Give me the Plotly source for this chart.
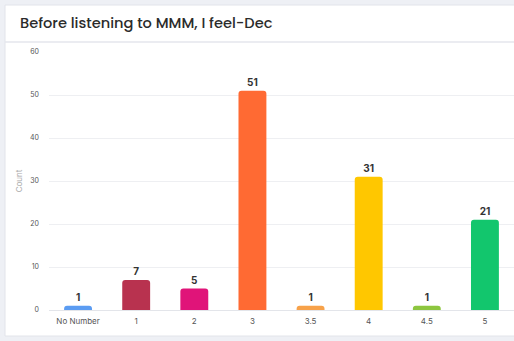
import plotly.graph_objects as go

categories = ["No Number", "1", "2", "3", "3.5", "4", "4.5", "5"]
counts = [1, 7, 5, 51, 1, 31, 1, 21]
colors = ["#5b9cf2", "#b8324f", "#e01479", "#ff6a33", "#f7a24a", "#ffc700", "#8dc63f", "#12c66d"]
y_ticks = [0, 10, 20, 30, 40, 50, 60]
title_text = "Before listening to MMM, I feel-Dec"

W, H = 514, 341
L, R, T, B = 49, 0, 52, 31
pw, ph = W - L - R, H - T - B

def px_x(p):
    return (p - L) / pw

def px_y(p):
    return (H - B - p) / ph

fig = go.Figure()
fig.add_trace(go.Bar(
    x=categories, y=counts,
    marker=dict(color=colors, line=dict(width=0)),
    text=[str(c) for c in counts],
    textposition="outside",
    textfont=dict(family="Inter, Noto Sans, sans-serif", size=10, color="#333333", weight="bold"),
    cliponaxis=False,
    width=0.48,
))

fig.update_layout(
    width=W, height=H,
    margin=dict(l=L, r=R, t=T, b=B),
    paper_bgcolor="#eef0f5",
    plot_bgcolor="rgba(0,0,0,0)",
    showlegend=False,
    barcornerradius=3,
    font=dict(family="Inter, Noto Sans, sans-serif"),
    xaxis=dict(
        type="category", tickfont=dict(size=8, color="#555555"),
        showgrid=False, zeroline=False, showline=False, ticks="",
        ticklabelstandoff=5,
    ),
    yaxis=dict(
        range=[0, 60], tickvals=y_ticks, tickfont=dict(size=7, color="#555555"),
        showgrid=True, gridcolor="#eeeff2", gridwidth=1, zeroline=True,
        zerolinecolor="#e3e5ea", zerolinewidth=1,
        title=dict(text="Count", font=dict(size=8, color="#aaaaaa"), standoff=6),
        ticks="", ticklabelstandoff=9,
    ),
    shapes=[
        dict(type="rect", xref="paper", yref="paper", layer="below",
             x0=px_x(5), x1=px_x(530), y0=px_y(336), y1=px_y(5),
             fillcolor="#ffffff", line=dict(color="#e2e4ea", width=1)),
        dict(type="line", xref="paper", yref="paper", layer="below",
             x0=px_x(5), x1=px_x(530), y0=px_y(42), y1=px_y(42),
             line=dict(color="#e4e6ec", width=1.5)),
    ],
    annotations=[
        dict(text=title_text, xref="paper", yref="paper",
             x=px_x(18), y=px_y(23), xanchor="left", yanchor="middle",
             showarrow=False,
             font=dict(family="Poppins, Inter, Noto Sans, sans-serif", size=14.6, color="#2b2b2b", weight=500)),
    ],
)

fig.write_html("out.html")
